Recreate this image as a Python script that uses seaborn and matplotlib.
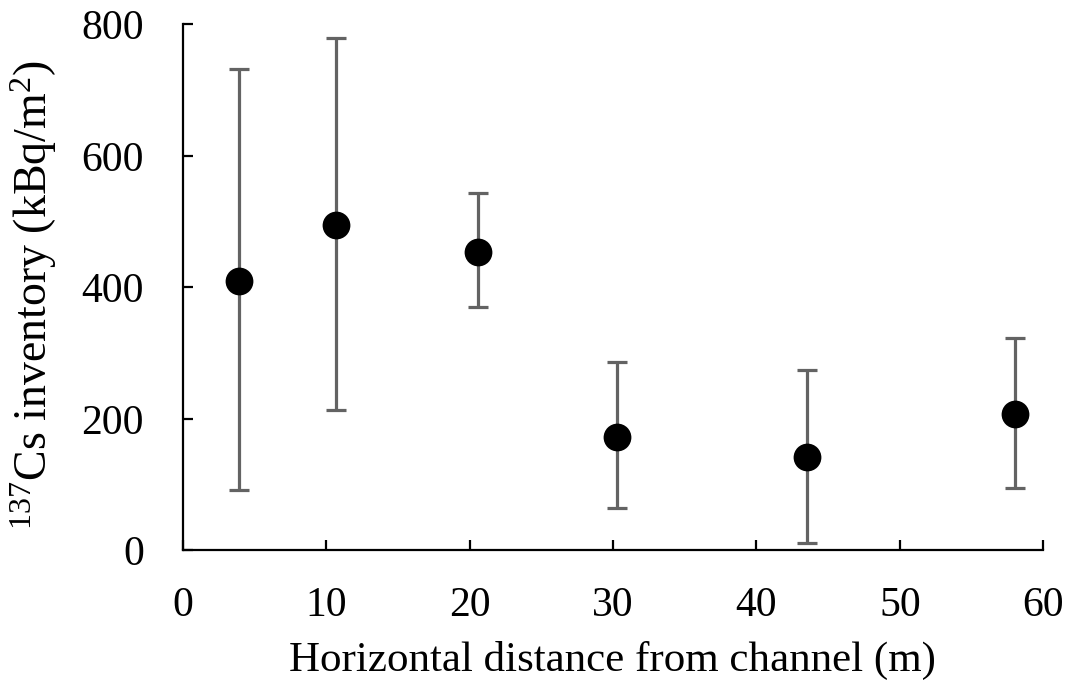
import matplotlib
matplotlib.use("Agg")
import matplotlib.pyplot as plt
import seaborn as sns
import pandas as pd

distance = [3.9, 10.7, 20.6, 30.3, 43.5, 58.0]
inventory = [410, 495, 454, 173, 142, 207]
err_upper = [733, 779, 543, 286, 275, 323]
err_lower = [92, 214, 370, 64, 11, 95]

x_ticks = [0, 10, 20, 30, 40, 50, 60]
y_ticks = [0, 200, 400, 600, 800]

sns.set_theme(style="ticks")
plt.rcParams['font.family'] = ['Liberation Serif', 'DejaVu Serif']
plt.rcParams['mathtext.default'] = 'regular'
plt.rcParams['xtick.direction'] = 'in'
plt.rcParams['ytick.direction'] = 'in'
plt.rcParams['text.color'] = 'black'
plt.rcParams['axes.labelcolor'] = 'black'

df = pd.DataFrame({"x": distance, "y": inventory})

fig = plt.figure(figsize=(10.72, 6.88), dpi=100)
ax = fig.add_axes([0.1704, 0.2001, 0.9733 - 0.1704, 0.9644 - 0.2001])

yerr = [[v - lo for v, lo in zip(inventory, err_lower)],
        [hi - v for v, hi in zip(inventory, err_upper)]]
ax.errorbar(distance, inventory, yerr=yerr, fmt='none', ecolor='#636363',
            elinewidth=2.3, capsize=7.5, capthick=2.3, zorder=2)
sns.scatterplot(data=df, x="x", y="y", ax=ax, color='black', s=400,
                edgecolor='black', linewidth=0, zorder=3, legend=False)

ax.set_xlim(0, 60)
ax.set_ylim(0, 800)
ax.set_xticks(x_ticks)
ax.set_yticks(y_ticks)
ax.tick_params(axis='both', direction='in', length=7.5, width=1.6,
               labelsize=30, colors='black')
ax.tick_params(axis='x', pad=26)
ax.tick_params(axis='y', pad=28)
for s in ['left', 'bottom']:
    ax.spines[s].set_linewidth(1.6)
    ax.spines[s].set_color('black')
for s in ['top', 'right']:
    ax.spines[s].set_visible(False)

ax.set_xlabel('Horizontal distance from channel (m)', fontsize=31)
ax.set_ylabel('$^{137}$Cs inventory (kBq/m$^{2}$)', fontsize=33)
ax.xaxis.set_label_coords(0.499, -0.172)
ax.yaxis.set_label_coords(-0.144, 0.486)

fig.savefig('out.png', dpi=100)
